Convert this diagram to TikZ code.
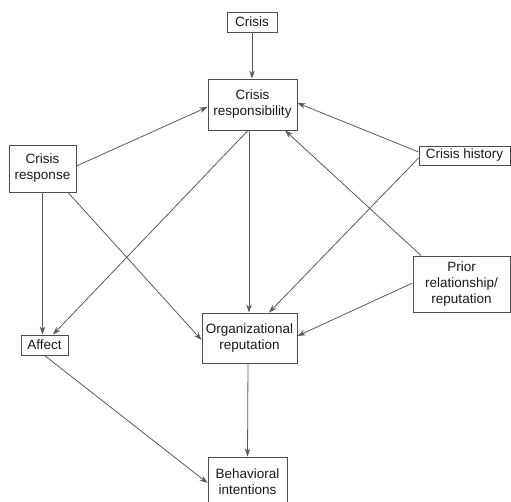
\documentclass[tikz,border=0pt]{standalone}
\usepackage{fontspec}
\setmainfont{Liberation Sans}
\usetikzlibrary{arrows.meta,calc}
\begin{document}
\begin{tikzpicture}[x=1pt,y=-1pt,
  box/.style={draw=black!70,line width=0.9pt,fill=white,inner sep=0pt,align=center,
    font=\fontsize{13.5}{16}\selectfont,text=black!90},
  arr/.style={draw=black!65,line width=0.8pt,-{Stealth[length=8pt,width=5.5pt]}}]
\useasboundingbox (0,0) rectangle (511,502);
\clip (0,0) rectangle (511,502);
\node[box,minimum width=50pt,minimum height=20pt] (crisis) at (252,22) {Crisis};
\node[box,minimum width=89pt,minimum height=51pt] (cr) at (252.5,104.5) {Crisis\\responsibility};
\node[box,minimum width=67pt,minimum height=47pt] (resp) at (42.5,168.5) {Crisis\\response};
\node[box,minimum width=91pt,minimum height=19pt] (hist) at (464.5,155.5) {Crisis history};
\node[box,minimum width=97pt,minimum height=56pt] (prior) at (461.5,284) {Prior\\relationship/\\reputation};
\node[box,minimum width=47pt,minimum height=20pt] (affect) at (44.5,345) {Affect};
\node[box,minimum width=95pt,minimum height=50pt] (org) at (249.5,338) {Organizational\\reputation};
\node[box,minimum width=79pt,minimum height=50pt] (beh) at (247.5,482) {Behavioral\\intentions};
\draw[arr] (crisis.south) -- (crisis.south |- cr.north);
\draw[arr] ($(resp.east)+(0,-2.5)$) -- ($(cr.west)+(0,2.5)$);
\draw[arr] ($(hist.west)+(0,-3.5)$) -- ($(cr.east)+(0,-1.5)$);
\draw[arr] ($(hist.west)+(0,2.5)$) -- ($(org.north)+(19.5,0)$);
\draw[arr] ($(prior.north)+(-40.5,0)$) -- ($(cr.south)+(32.5,0)$);
\draw[arr] ($(prior.west)+(0,-1)$) -- ($(org.east)+(0,-2)$);
\draw[arr] ($(cr.south)+(-3.5,0)$) -- ($(org.north)+(-0.5,0)$);
\draw[arr] ($(cr.south)+(-4.5,0)$) -- ($(affect.north)+(8.5,0)$);
\draw[arr] (resp.south) -- (resp.south |- affect.north);
\draw[arr] ($(resp.south)+(25.5,0)$) -- ($(org.west)+(0,2)$);
\draw[arr] (affect.south) -- ($(beh.west)+(0,1)$);
\draw[arr] ($(org.south)+(-1.5,0)$) -- (beh.north);
\end{tikzpicture}
\end{document}
